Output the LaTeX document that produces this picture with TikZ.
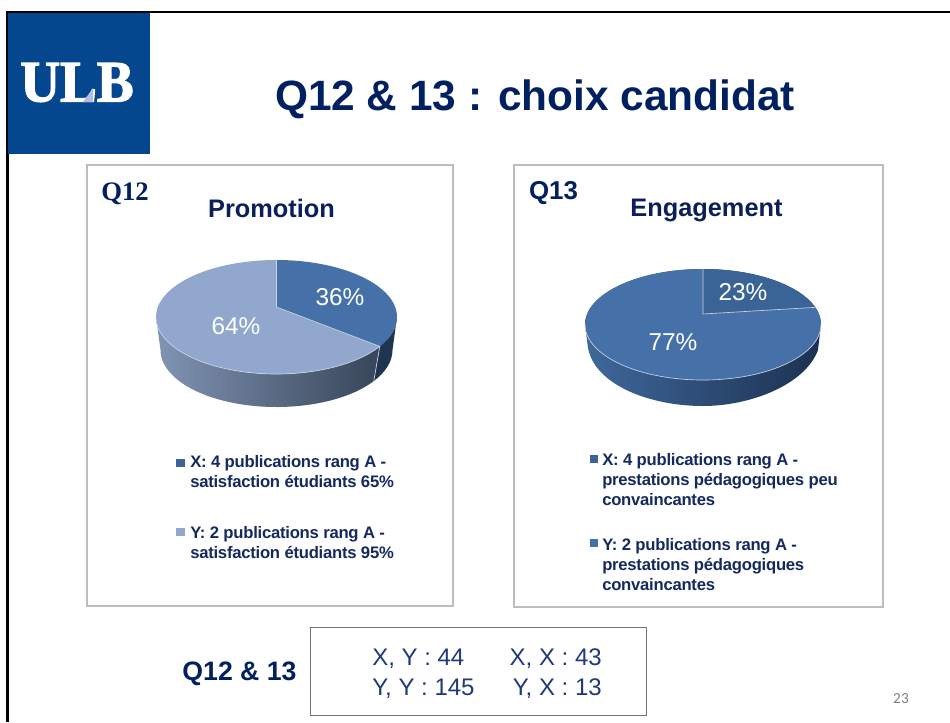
\documentclass[tikz,border=0pt]{standalone}
\usepackage{fontspec}
\setmainfont{Liberation Sans}
\newfontfamily\serifbold[BoldFont={Liberation Serif Bold}]{Liberation Serif}
\newfontfamily\logofont[FakeStretch=0.94,FakeBold=2]{Liberation Serif Bold}
\newfontfamily\legendfont[LetterSpace=-1.5]{Liberation Sans Bold}
\newfontfamily\pagefont{Carlito}
\definecolor{ulbblue}{HTML}{04478F}
\definecolor{navy}{HTML}{002060}
\definecolor{charttitle}{HTML}{0A1F5C}
\definecolor{legendtext}{HTML}{14295E}
\definecolor{boxtext}{HTML}{1F3A78}
\definecolor{panelline}{HTML}{BDBDBD}
\definecolor{lightslice}{HTML}{91A7CD}
\definecolor{midslice}{HTML}{4571A8}
\definecolor{darkslice}{HTML}{3A6496}
\definecolor{edgeline}{HTML}{C9D3E3}
\definecolor{sideAl}{HTML}{8094B4}
\definecolor{sideAm}{HTML}{5A6C88}
\definecolor{sideAr}{HTML}{384558}
\definecolor{sideAd}{HTML}{1E3552}
\definecolor{sideBl}{HTML}{3F689C}
\definecolor{sideBm}{HTML}{2F5080}
\definecolor{sideBr}{HTML}{1C3150}
\definecolor{logotri}{HTML}{B4BCDF}
\tikzset{
  x=0.75pt,y=-0.75pt,
  panel/.style={draw=panelline,line width=1.1pt,fill=white},
  pct/.style={text=white,font=\fontsize{18.3}{20}\selectfont,inner sep=0},
  charthead/.style={text=charttitle,font=\fontsize{19}{22}\selectfont\bfseries,inner sep=0},
  legendentry/.style={text=legendtext,font=\fontsize{12.5}{15}\legendfont,align=left,anchor=north west,inner sep=0},
  boxcell/.style={text=boxtext,font=\fontsize{18}{20}\selectfont,inner sep=0},
  sliceedge/.style={draw=edgeline,line width=0.5pt},
}
\begin{document}
\begin{tikzpicture}
\useasboundingbox (0,0) rectangle (950,722);
\fill[white] (0,0) rectangle (950,722);
% frame
\draw[black,line width=1.7pt] (950,12) -- (7.5,12) -- (7.5,722);
% logo
\fill[ulbblue] (8,13) rectangle (150,154);
\node[text=white,inner sep=0,font=\fontsize{44}{50}\logofont] (ulb) at (77,82.5) {ULB};
\fill[logotri] (83,102) -- (93,102) -- (93,88) -- cycle;
% title
\node[text=navy,inner sep=0,font=\fontsize{31.8}{36}\selectfont\bfseries] (title) at (535,99) {Q12 \& 13 : choix candidat};
% panels
\node[panel,minimum width=274.5pt,minimum height=330.5pt,inner sep=0] (panelA) at (270,385.5) {};
\node[panel,minimum width=276.5pt,minimum height=331.5pt,inner sep=0] (panelB) at (698.5,386) {};
\node[text=navy,inner sep=0,font=\fontsize{20}{22}\serifbold\bfseries] (qA) at (125,194) {Q12};
\node[text=navy,inner sep=0,font=\fontsize{19.4}{22}\selectfont\bfseries] (qB) at (553.5,193) {Q13};
\node[charthead] (headA) at (271.5,208) {Promotion};
\node[charthead] (headB) at (706.5,210) {Engagement};
% pie A: sides
\shade[left color=sideAl,middle color=sideAm,right color=sideAr]
  (156,317) arc[start angle=180,end angle=31,x radius=120.5,y radius=57]
  -- ({276.5+116*cos(33)},{350+57*sin(33)})
  arc[start angle=33,end angle=180,x radius=116,y radius=57] -- cycle;
\fill[sideAd]
  (397,317) arc[start angle=0,end angle=31,x radius=120.5,y radius=57]
  -- ({276.5+116*cos(33)},{350+57*sin(33)})
  arc[start angle=33,end angle=0,x radius=116,y radius=57] -- cycle;
\draw[sliceedge] ({276.5+120.5*cos(31)},{317+57*sin(31)}) -- ({276.5+116*cos(33)},{350+57*sin(33)});
% pie A: top
\fill[lightslice] (276.5,307) -- ({276.5+120.5*cos(31)},{317+57*sin(31)})
  arc[start angle=31,end angle=270,x radius=120.5,y radius=57] -- cycle;
\fill[midslice] (276.5,307) -- (276.5,260)
  arc[start angle=270,end angle=391,x radius=120.5,y radius=57] -- cycle;
\draw[sliceedge] (276.5,260) -- (276.5,307) -- ({276.5+120.5*cos(31)},{317+57*sin(31)})
  arc[start angle=31,end angle=180,x radius=120.5,y radius=57];
\node[pct] (a36) at (340,297.5) {36\%};
\node[pct] (a64) at (236,326) {64\%};
% pie B: side
\shade[left color=sideBl,middle color=sideBm,right color=sideBr]
  (585,324.5) arc[start angle=180,end angle=360,x radius=118,y radius=55.5]
  -- (818,350) .. controls (805,385) and (750,406) .. (703,406)
  .. controls (650,406) and (595,385) .. (588,348) -- cycle;
% pie B: top
\fill[midslice] (703,314) -- ({703+118*cos(18)},{324.5-55.5*sin(18)})
  arc[start angle=-18,end angle=270,x radius=118,y radius=55.5] -- cycle;
\fill[darkslice] (703,314) -- (703,269)
  arc[start angle=270,end angle=342,x radius=118,y radius=55.5] -- cycle;
\draw[sliceedge] (703,269) -- (703,314) -- ({703+118*cos(18)},{324.5-55.5*sin(18)});
\draw[sliceedge] (821,324.5) arc[start angle=0,end angle=180,x radius=118,y radius=55.5];
\node[pct] (b23) at (743,292) {23\%};
\node[pct] (b77) at (673,342) {77\%};
% legends
\fill[darkslice] (176,459) rectangle (185,467);
\fill[lightslice] (176,528) rectangle (185,536);
\fill[darkslice] (590,455) rectangle (598,463);
\fill[midslice] (590,539) rectangle (598,547);
\node[legendentry] (la1) at (190,455) {X: 4 publications rang A -\\satisfaction étudiants 65\%};
\node[legendentry] (la2) at (190,526.5) {Y: 2 publications rang A -\\satisfaction étudiants 95\%};
\node[legendentry] (lb1) at (602,453) {X: 4 publications rang A -\\prestations pédagogiques peu\\convaincantes};
\node[legendentry] (lb2) at (602,538) {Y: 2 publications rang A -\\prestations pédagogiques\\convaincantes};
% bottom
\node[text=navy,inner sep=0,font=\fontsize{20}{22}\selectfont\bfseries] (q1213) at (239.5,673.5) {Q12 \& 13};
\node[draw=black!55,line width=0.75pt,fill=white,minimum width=252.5pt,minimum height=66pt,inner sep=0] (scorebox) at (478.5,671) {};
\node[boxcell,anchor=west] (xy) at (372,659) {X, Y : 44};
\node[boxcell,anchor=east] (xx) at (602,659) {X, X : 43};
\node[boxcell,anchor=west] (yy) at (372,689) {Y, Y : 145};
\node[boxcell,anchor=east] (yx) at (602,689) {Y, X : 13};
\node[text=black!50,inner sep=0,font=\fontsize{11.5}{12}\pagefont] (pagenum) at (901,699) {23};
\end{tikzpicture}
\end{document}
